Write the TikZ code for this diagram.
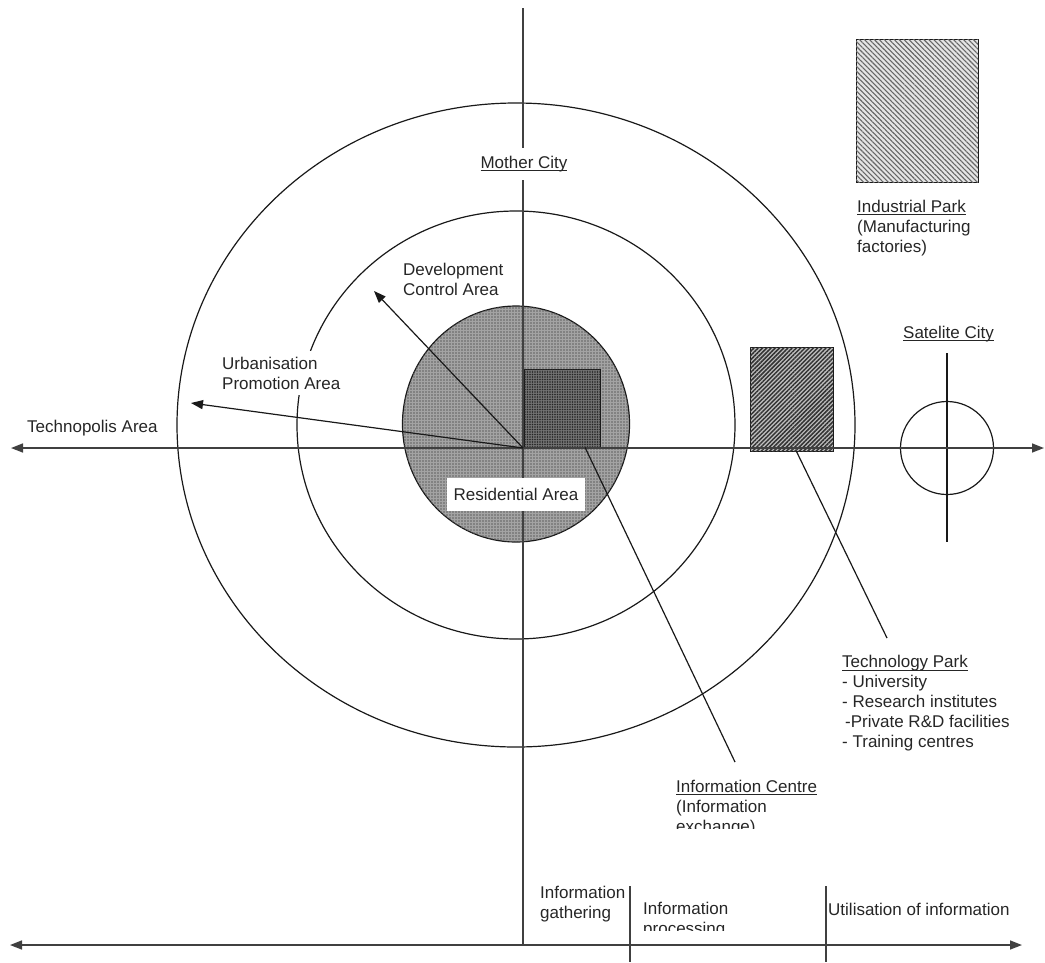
\documentclass[tikz,border=0pt]{standalone}
\usepackage{fontspec}
\setmainfont{Liberation Sans}
\usetikzlibrary{arrows.meta,patterns.meta,calc}
\newcommand\ulx[1]{\setbox0=\hbox{#1}\rlap{\rule[-2.8pt]{\wd0}{0.9pt}}\box0}
\begin{document}
\begin{tikzpicture}[x=1pt,y=-1pt,
  font=\fontsize{17}{19.8}\selectfont, text=black!85,
  axis/.style={line width=1.5pt, draw=black!75},
  ring/.style={line width=1.2pt, draw=black!90},
  headarrow/.style={-{Triangle[length=12pt,width=9pt]}},
  botharrow/.style={{Triangle[length=12pt,width=9pt]}-{Triangle[length=12pt,width=9pt]}},
  lbl/.style={anchor=base west, align=left, inner sep=0pt},
  rectbox/.style={draw=black!90, line width=1pt, inner sep=0pt}]
\useasboundingbox (0,0) rectangle (1045,962);
\coordinate (O) at (523,448);
\coordinate (hl) at (11,448);
\coordinate (hr) at (1044,448);
\coordinate (vt) at (523,8);
\coordinate (vb) at (523,945);
\coordinate (bl) at (10,945);
\coordinate (br) at (1022,945);
\coordinate (d1t) at (630,886);
\coordinate (d1b) at (630,962);
\coordinate (d2t) at (826,886);
\coordinate (d2b) at (826,962);
\coordinate (dca) at (374,291);
\coordinate (upa) at (191,403);
\coordinate (icend) at (735,762);
\coordinate (tpend) at (887,638);
\coordinate (satT) at (947,353);
\coordinate (satB) at (947,542);

% rings
\draw[ring] (516,425) ellipse [x radius=339pt, y radius=322pt];
\draw[ring] (516,425) ellipse [x radius=219pt, y radius=214pt];
\path[ring, fill=black!36, postaction={pattern={Dots[distance=3pt,radius=0.85pt]}, pattern color=black!62}]
  (516,424) ellipse [x radius=113.5pt, y radius=118pt];

% rectangles
\node[rectbox, minimum width=76pt, minimum height=78pt, fill=black!55,
  postaction={pattern={Dots[distance=2.5pt,radius=0.9pt]}, pattern color=black!85}] (ic) at (562,408) {};
\node[rectbox, minimum width=83pt, minimum height=104pt, fill=black!25,
  postaction={pattern={Lines[angle=45,distance=3pt,line width=1.5pt]}, pattern color=black!80}] (tp) at (791.5,399) {};
\node[rectbox, minimum width=122pt, minimum height=143pt, fill=black!10,
  postaction={pattern={Lines[angle=-45,distance=3.5pt,line width=1.1pt]}, pattern color=black!60}] (ip) at (917,110.5) {};

% satellite city
\node[ring, circle, minimum size=93pt, inner sep=0pt] (sat) at (947,448) {};
\draw[ring] (satT) -- (satB);

% axes
\draw[axis, botharrow] (hl) -- (hr);
\draw[axis] (vt) -- (vb);
\draw[axis, botharrow] (bl) -- (br);
\draw[axis] (d1t) -- (d1b);
\draw[axis] (d2t) -- (d2b);

% arrows from centre
\draw[ring, headarrow] (O) -- (dca);
\draw[ring, headarrow] (O) -- (upa);

% connectors
\draw[ring] ($(ic.south west)!0.8!(ic.south east)$) -- (icend);
\draw[ring] ($(tp.south)+(5,0)$) -- (tpend);

% labels (multi-line nodes are anchored at the baseline of their last line)
\node[lbl, fill=white, inner xsep=2pt, inner ysep=8pt, anchor=base] (mc) at (524,168) {\ulx{Mother City}};
\node[lbl] (dev) at (403,295) {Development\\Control Area};
\node[lbl, fill=white, inner xsep=3pt, inner ysep=6pt] (urb) at (219,389) {Urbanisation\\Promotion Area};
\node[lbl] (tpa) at (27,432) {Technopolis Area};
\node[fill=white, minimum width=138pt, minimum height=33pt, inner sep=0pt] (ra) at (516,494.5) {Residential Area};
\node[lbl] (ipl) at (857,252) {\ulx{Industrial Park}\\(Manufacturing\\factories)};
\node[lbl] (scl) at (903,338) {\ulx{Satelite City}};
\node[lbl] (tpl) at (842,747) {\ulx{Technology Park}\\- University\\- Research institutes\\\hspace{3pt}-Private R\&D facilities\\- Training centres};
\begin{scope}
  \clip (600,770) rectangle (900,828);
  \node[lbl] (icl) at (676,832) {\ulx{Information Centre}\\(Information\\exchange)};
\end{scope}
\node[lbl] (ig) at (540,918) {Information\\gathering};
\begin{scope}
  \clip (635,880) rectangle (820,930);
  \node[lbl] (ipr) at (643,934) {Information\\processing};
\end{scope}
\node[lbl] (ui) at (828,915) {Utilisation of information};
\end{tikzpicture}
\end{document}
